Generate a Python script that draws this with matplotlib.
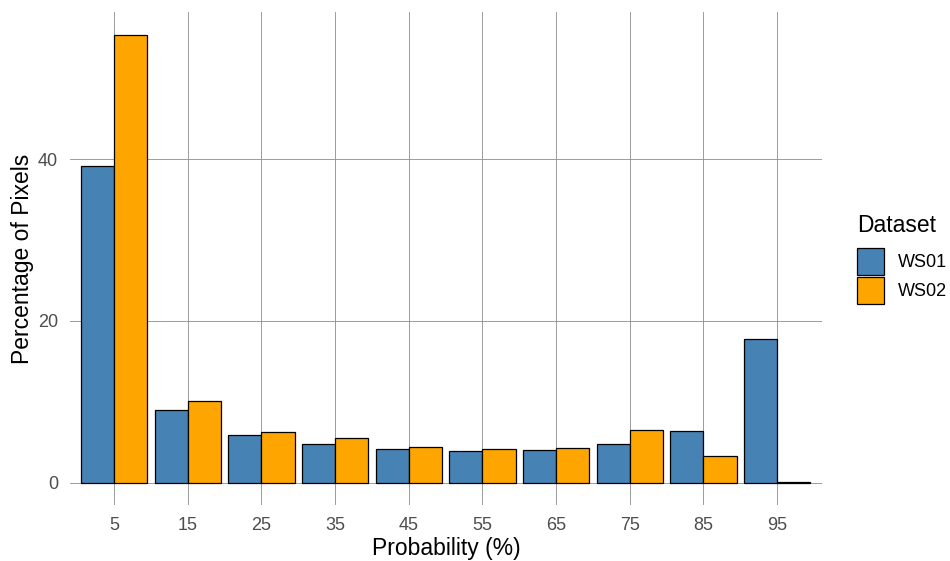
import numpy as np
import matplotlib
matplotlib.use("Agg")
import matplotlib.pyplot as plt

# bin centres (probability %) and percentage of pixels per dataset
bins = [5, 15, 25, 35, 45, 55, 65, 75, 85, 95]
ws01 = [39.2, 9.0, 5.9, 4.8, 4.1, 3.95, 4.05, 4.8, 6.35, 17.7]
ws02 = [55.4, 10.05, 6.25, 5.55, 4.45, 4.1, 4.25, 6.5, 3.25, 0.05]
series = ["WS01", "WS02"]
colors = ["#4682B4", "#FFA500"]

plt.rcParams['font.family'] = ['Liberation Sans', 'DejaVu Sans']

W, H = 950, 561
fig = plt.figure(figsize=(W / 100, H / 100), dpi=100)
ax = fig.add_axes([70 / W, 56 / H, (822 - 70) / W, (505 - 12) / H])

x = np.array(bins, dtype=float)
bw = 4.5
ax.bar(x - bw / 2, ws01, bw, color=colors[0], edgecolor='black', linewidth=0.9,
       label=series[0], zorder=3)
ax.bar(x + bw / 2, ws02, bw, color=colors[1], edgecolor='black', linewidth=0.9,
       label=series[1], zorder=3)

ax.set_xlim(-1.0, 101.1)
ax.set_ylim(-2.77, 58.2)
ax.set_xticks(bins)
ax.set_yticks([0, 20, 40])
ax.grid(True, color='#8c8c8c', linewidth=0.6, zorder=0)
for s in ax.spines.values():
    s.set_visible(False)
ax.tick_params(length=0, labelsize=13, labelcolor='#4d4d4d')
ax.tick_params(axis='y', pad=8.5)
ax.tick_params(axis='x', pad=9)

ax.set_xlabel('Probability (%)', fontsize=16.5, labelpad=2)
ax.set_ylabel('Percentage of Pixels', fontsize=16.5, labelpad=3)

# legend: title drawn separately so the key spacing matches
fig.text(857 / W, 1 - 226 / H, 'Dataset', fontsize=16.5, va='center', ha='left')
leg = fig.legend(loc='upper left', bbox_to_anchor=(857 / W, 1 - 248 / H),
                 fontsize=13, frameon=False, handlelength=1.5, handleheight=1.92,
                 handletextpad=0.75, labelspacing=0.12,
                 borderaxespad=0, borderpad=0)

fig.savefig('out.png', dpi=100)
